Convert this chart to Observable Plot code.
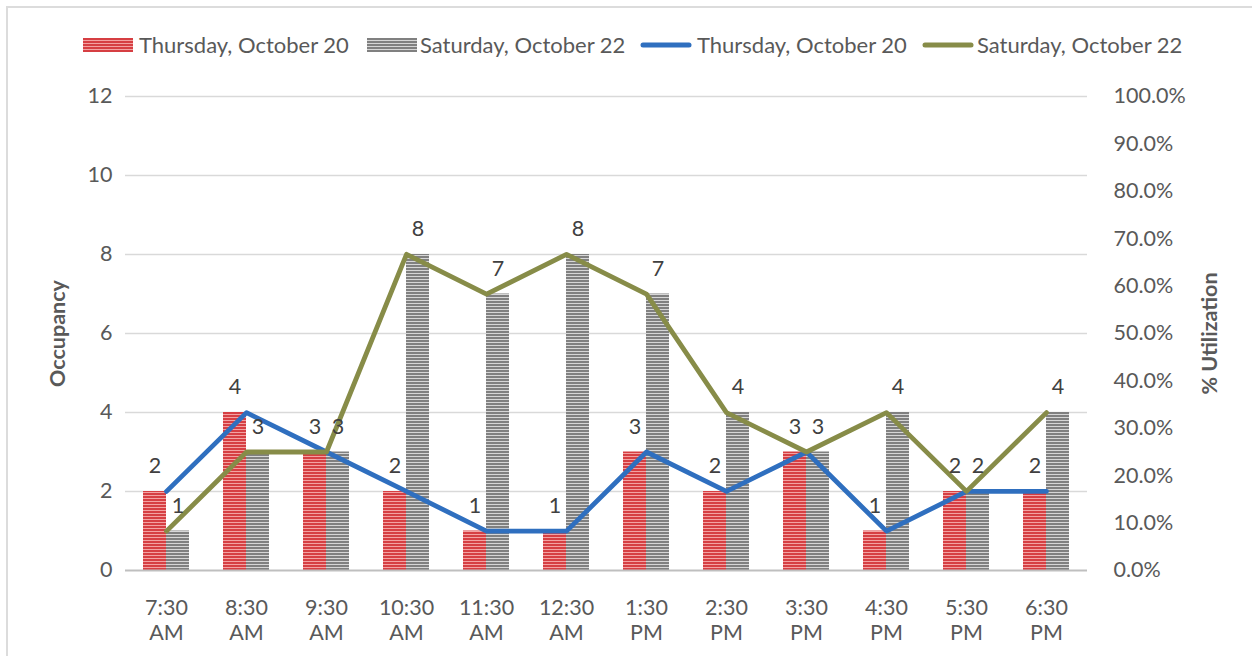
<!DOCTYPE html>
<html>
<head>
<meta charset="utf-8">
<script src="https://cdn.jsdelivr.net/npm/d3@7"></script>
<script src="https://cdn.jsdelivr.net/npm/@observablehq/plot@0.6"></script>
<style>
  body { margin: 0; background: #fff; font-family: Lato, "Open Sans", sans-serif; }
  #frame { position: absolute; left: 6px; top: 6px; width: 1300px; height: 700px;
           border-left: 2px solid #dcdcdc; border-top: 2px solid #dcdcdc; }
  #legend { position: absolute; left: 0; top: 0; width: 1252px; height: 70px;
            font-size: 22px; color: #595959; }
  #legend .sw { position: absolute; top: 38px; }
  #legend .lab { position: absolute; top: 32px; line-height: 26px; white-space: nowrap; }
  #chart { position: absolute; left: 0; top: 70px; }
</style>
</head>
<body>
<svg width="0" height="0" style="position:absolute">
  <defs>
    <pattern id="stripeRed" patternUnits="userSpaceOnUse" width="8" height="3">
      <rect width="8" height="3" fill="#d63f43"></rect>
      <rect y="2" width="8" height="1" fill="#f3a2a2"></rect>
    </pattern>
    <pattern id="stripeGray" patternUnits="userSpaceOnUse" width="8" height="3">
      <rect width="8" height="3" fill="#808080"></rect>
      <rect y="2" width="8" height="1" fill="#d6d6d6"></rect>
    </pattern>
  </defs>
</svg>
<div id="frame"></div>
<div id="legend"></div>
<div id="chart"></div>
<script>
// Hourly counts and utilization for the two survey days
const times = ["7:30 AM", "8:30 AM", "9:30 AM", "10:30 AM", "11:30 AM", "12:30 AM",
               "1:30 PM", "2:30 PM", "3:30 PM", "4:30 PM", "5:30 PM", "6:30 PM"];
const seriesNames = ["Thursday, October 20", "Saturday, October 22"];
const thuOccupancy = [2, 4, 3, 2, 1, 1, 3, 2, 3, 1, 2, 2];
const satOccupancy = [1, 3, 3, 8, 7, 8, 7, 4, 3, 4, 2, 4];
const thuUtilization = [16.7, 33.3, 25.0, 16.7, 8.3, 8.3, 25.0, 16.7, 25.0, 8.3, 16.7, 16.7];
const satUtilization = [8.3, 25.0, 25.0, 66.7, 58.3, 66.7, 58.3, 33.3, 25.0, 33.3, 16.7, 33.3];
const occupancyTicks = [0, 2, 4, 6, 8, 10, 12];
const utilizationTicks = [0, 10, 20, 30, 40, 50, 60, 70, 80, 90, 100];
const capacity = 12; // occupancy that corresponds to 100% utilization

const barFills = ["url(#stripeRed)", "url(#stripeGray)"];
const lineColors = ["#2f6fbf", "#878c48"];
const textColor = "#595959";

const thuRows = times.map((time, i) => ({time, occ: thuOccupancy[i], util: thuUtilization[i]}));
const satRows = times.map((time, i) => ({time, occ: satOccupancy[i], util: satUtilization[i]}));
const utilY = d => d.util / 100 * capacity;

// Legend: two patterned bar swatches, two line swatches
const legend = document.getElementById("legend");
const legendItems = [
  {kind: "bar", fill: barFills[0], name: seriesNames[0], sx: 83, tx: 139},
  {kind: "bar", fill: barFills[1], name: seriesNames[1], sx: 367, tx: 420},
  {kind: "line", color: lineColors[0], name: seriesNames[0], sx: 640, tx: 697},
  {kind: "line", color: lineColors[1], name: seriesNames[1], sx: 922, tx: 977}
];
for (const it of legendItems) {
  const sw = document.createElementNS("http://www.w3.org/2000/svg", "svg");
  sw.setAttribute("class", "sw");
  sw.setAttribute("width", 52);
  sw.setAttribute("height", 14);
  sw.style.left = it.sx + "px";
  if (it.kind === "bar") {
    sw.innerHTML = `<rect x="0" y="0" width="50" height="14" fill="${it.fill}"></rect>`;
  } else {
    sw.innerHTML = `<line x1="3" x2="49" y1="7" y2="7" stroke="${it.color}" stroke-width="5" stroke-linecap="round"></line>`;
  }
  legend.appendChild(sw);
  const lab = document.createElement("div");
  lab.className = "lab";
  lab.style.left = it.tx + "px";
  lab.textContent = it.name;
  legend.appendChild(lab);
}

const chart = Plot.plot({
  width: 1252,
  height: 586,
  marginTop: 26,
  marginBottom: 86,
  marginLeft: 125,
  marginRight: 165,
  style: {fontFamily: "Lato, 'Open Sans', sans-serif", fontSize: "21.5px", color: textColor, background: "transparent", overflow: "visible"},
  x: {domain: times, paddingInner: 0.426, paddingOuter: 0.213, axis: null},
  y: {domain: [0, 12], axis: null},
  marks: [
    Plot.gridY(occupancyTicks.slice(1), {stroke: "#d9d9d9", strokeOpacity: 1, strokeWidth: 1.3}),
    Plot.barY(thuRows, {x: "time", y: "occ", fill: barFills[0], insetRight: 23}),
    Plot.barY(satRows, {x: "time", y: "occ", fill: barFills[1], insetLeft: 23}),
    Plot.ruleY([0], {stroke: "#bfbfbf", strokeWidth: 2}),
    Plot.line(thuRows, {x: "time", y: utilY, stroke: lineColors[0], strokeWidth: 4.8}),
    Plot.line(satRows, {x: "time", y: utilY, stroke: lineColors[1], strokeWidth: 4.8}),
    Plot.text(thuRows, {x: "time", y: "occ", text: d => String(d.occ), dx: -11.5, dy: -25, fill: "#404040"}),
    Plot.text(satRows, {x: "time", y: "occ", text: d => String(d.occ), dx: 11.5, dy: -25, fill: "#404040"}),
    Plot.axisY(occupancyTicks, {anchor: "left", tickSize: 0, tickPadding: 13, label: null}),
    Plot.text(utilizationTicks, {y: p => p / 100 * capacity, text: p => p.toFixed(1) + "%",
      frameAnchor: "right", dx: 26, textAnchor: "start", fill: textColor}),
    Plot.axisX({tickSize: 0, tickPadding: 27, tickFormat: d => d.replace(" ", "\n"), lineHeight: 1.16, label: null}),
    Plot.text(["Occupancy"], {frameAnchor: "left", textAnchor: "middle", rotate: -90, dx: -67, fontWeight: "bold", fill: textColor}),
    Plot.text(["% Utilization"], {frameAnchor: "right", textAnchor: "middle", rotate: -90, dx: 123, fontWeight: "bold", fill: textColor})
  ]
});
document.getElementById("chart").appendChild(chart);
</script>
</body>
</html>
